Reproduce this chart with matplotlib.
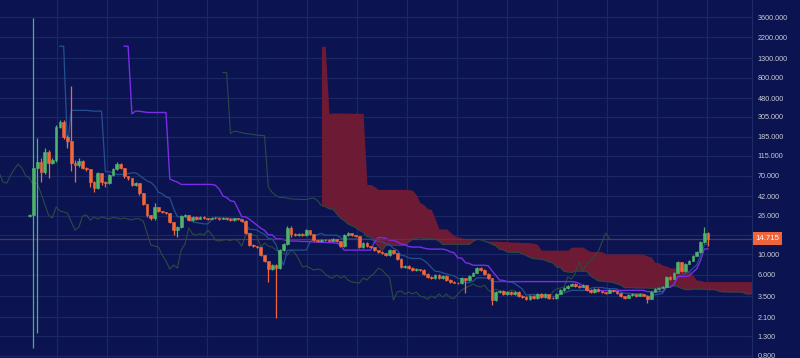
import numpy as np
import pandas as pd
import matplotlib
matplotlib.use('Agg')
import matplotlib.pyplot as plt
from matplotlib.ticker import FixedLocator, FixedFormatter, NullLocator

# weekly candles (log price axis)
closes = [26.5, 85.1, 98.8, 77.6, 127.4, 96.3, 103.8, 237.6, 269, 185.3,
          166.6, 95.6, 91.7, 102, 85.7, 83.0, 60.5, 51.8, 75.1, 60.1,
          58.6, 71.5, 83.0, 94.0, 85.1, 69.7, 66.3, 55.8, 58.6, 45.7,
          34.8, 26.5, 24.6, 32.3, 29.3, 28.5, 27.8, 22.3, 18.25, 19.6,
          25.8, 26.5, 23.4, 25.2, 24.0, 25.2, 24.6, 24.0, 24.9, 24.6,
          24.0, 24.6, 24.0, 23.4, 24.3, 24.0, 22.8, 16.9, 12.55, 12.24,
          11.95, 9.78, 8.45, 6.92, 7.64, 7.09, 11.1, 12.87, 19.2, 16.5,
          16.1, 16.7, 16.1, 18.25, 16.5, 14.2, 13.85, 14.2, 14.4, 14.05,
          14.55, 13.85, 12.24, 16.1, 16.9, 16.1, 15.7, 11.95, 13.2, 12.24,
          11.95, 11.1, 10.55, 10.3, 9.78, 11.1, 10.3, 8.88, 7.27, 7.45,
          7.09, 6.75, 6.92, 6.75, 6.11, 5.67, 5.53, 5.96, 5.53, 5.81,
          5.27, 5.01, 4.95, 4.89, 5.53, 5.27, 5.81, 6.27, 7.09, 6.75,
          6.11, 5.53, 3.20, 3.91, 4.01, 3.72, 3.91, 3.72, 3.91, 3.54,
          3.45, 3.28, 3.54, 3.37, 3.72, 3.45, 3.72, 3.37, 3.33, 3.72,
          4.11, 4.32, 4.54, 4.77, 4.54, 4.43, 4.65, 4.11, 3.91, 4.21,
          4.01, 3.91, 3.81, 4.11, 4.01, 3.81, 3.54, 3.37, 3.63, 3.72,
          3.54, 3.72, 3.58, 3.28, 3.91, 4.21, 4.32, 4.43, 5.67, 5.40,
          6.27, 8.24, 6.58, 7.84, 8.45, 9.54, 10.55, 13.5, 16.9, 14.715]
highs = [27.2, 3510, 179, 109, 140, 132, 110, 250, 282, 278,
         192, 653, 105, 108, 105, 87, 84, 62, 77, 76,
         61.5, 73, 86, 98, 96, 86, 70, 66.5, 60, 59,
         46, 35, 26.8, 35.5, 32.5, 29.6, 28.7, 28, 22.5, 20.2,
         26.3, 27.3, 26.8, 25.8, 25.6, 25.7, 25.6, 24.9, 25.4, 25.3,
         24.9, 25.0, 24.9, 24.3, 24.7, 24.6, 24.2, 23.4, 17.0, 12.8,
         12.4, 12.1, 9.9, 8.5, 7.9, 7.8, 11.4, 13.2, 20.0, 20.1,
         17.0, 17.1, 16.9, 18.6, 18.4, 16.7, 14.4, 14.5, 14.7, 14.6,
         14.8, 14.7, 14.0, 16.5, 17.3, 17.1, 16.3, 15.9, 13.5, 13.4,
         12.4, 12.1, 11.2, 10.7, 10.4, 11.4, 11.2, 10.4, 9.0, 7.7,
         7.6, 7.2, 7.1, 7.0, 6.85, 6.2, 5.8, 6.1, 6.05, 5.95,
         5.9, 5.35, 5.1, 5.05, 5.65, 5.6, 5.95, 6.45, 7.3, 7.2,
         6.85, 6.2, 5.6, 4.05, 4.15, 4.1, 4.0, 3.98, 4.0, 3.98,
         3.6, 3.5, 3.62, 3.6, 3.8, 3.78, 3.8, 3.76, 3.45, 3.8,
         4.2, 4.42, 4.65, 4.9, 4.85, 4.6, 4.75, 4.7, 4.18, 4.3,
         4.28, 4.06, 3.96, 4.2, 4.15, 4.05, 3.85, 3.58, 3.7, 3.8,
         3.76, 3.78, 3.75, 3.62, 4.0, 4.3, 4.4, 4.55, 5.8, 5.75,
         6.4, 8.5, 8.3, 8.0, 8.7, 9.8, 10.9, 14.0, 19.8, 17.3]
lows = [25.3, 0.97, 1.4, 60, 74, 66, 94, 100, 232, 175,
        140, 80, 60, 88, 83, 79, 53, 47, 50, 56,
        53, 57, 70, 82, 83, 67, 64, 54, 54, 44,
        34, 25.5, 23.2, 23.5, 28.5, 27.8, 27.0, 21.8, 16.1, 15.2,
        19.3, 25, 23, 23, 23.6, 23.7, 24.2, 23.6, 23.7, 24.2,
        23.6, 23.7, 23.6, 23.0, 23.1, 23.6, 22.4, 16.5, 12.2, 11.9,
        11.6, 9.5, 8.2, 5.05, 6.7, 2.05, 6.9, 10.8, 12.5, 15.5,
        15.7, 15.8, 15.8, 15.9, 16.2, 13.9, 13.5, 13.6, 14.0, 13.8,
        13.9, 13.6, 11.9, 12.0, 15.8, 15.8, 15.4, 11.7, 11.8, 12.0,
        11.7, 10.9, 10.3, 10.1, 9.6, 9.6, 10.1, 8.7, 7.1, 7.1,
        6.9, 6.6, 6.6, 6.6, 6.0, 5.55, 5.4, 5.45, 5.4, 5.45,
        5.15, 4.9, 4.85, 4.75, 4.8, 3.8, 5.2, 5.75, 6.2, 6.6,
        6.0, 5.4, 2.83, 3.1, 3.8, 3.6, 3.65, 3.6, 3.65, 3.45,
        3.35, 3.2, 3.22, 3.3, 3.32, 3.38, 3.4, 3.3, 3.25, 3.3,
        3.68, 4.05, 4.25, 4.5, 4.45, 4.35, 4.38, 4.05, 3.85, 3.85,
        3.95, 3.85, 3.75, 3.78, 3.95, 3.75, 3.48, 3.3, 3.33, 3.58,
        3.48, 3.5, 3.52, 3.0, 3.25, 3.88, 4.15, 4.28, 4.4, 5.3,
        5.35, 6.2, 6.45, 6.5, 7.75, 8.4, 9.45, 10.4, 13.3, 12.2]
first_open = 25.8
last_price = 14.715
price_ticks = [0.8, 1.3, 2.1, 3.5, 6, 10, 16, 26, 42, 70, 115, 185,
               305, 480, 800, 1300, 2200, 3600]

BG = '#0b1451'
GRID = '#1b2868'
UP = '#4fb36b'
DOWN = '#ef673b'

opens = [first_open] + closes[:-1]
df = pd.DataFrame({'open': opens, 'high': highs, 'low': lows, 'close': closes})
idx = np.arange(len(df))


def midpoint(period):
    return (df['high'].rolling(period).max() + df['low'].rolling(period).min()) / 2


tenkan = midpoint(9)
kijun = midpoint(26)
span_a = ((tenkan + kijun) / 2).to_numpy()
span_b = midpoint(52).to_numpy()
shift = 26

fig = plt.figure(figsize=(8, 3.58), dpi=100, facecolor=BG)
ax = fig.add_axes([0, 0, 752 / 800, 1])
ax.set_facecolor(BG)
ax.set_yscale('log')
ax.set_ylim(0.759, 5534)
ax.set_xlim(-7.8, 190.6)

# grid; the 16.000 label sits under the last-price tag, so it is left blank
ax.xaxis.set_major_locator(FixedLocator(np.arange(7.26, 191, 13.19)))
ax.xaxis.set_minor_locator(NullLocator())
ax.yaxis.set_major_locator(FixedLocator(price_ticks))
ax.yaxis.set_minor_locator(NullLocator())
tick_text = ['' if t == 16 else '%.3f' % t for t in price_ticks]
ax.yaxis.set_major_formatter(FixedFormatter(tick_text))
ax.grid(True, color=GRID, lw=0.8)
ax.set_axisbelow(True)
ax.tick_params(axis='x', length=0, labelbottom=False)
ax.yaxis.tick_right()
ax.tick_params(axis='y', length=0, pad=4, labelsize=5.2, labelcolor='#c9ccd8')
for lab in ax.get_yticklabels():
    lab.set_family('Liberation Sans')
for side in ['top', 'bottom', 'left']:
    ax.spines[side].set_visible(False)
ax.spines['right'].set_color('#1f2b66')

# ichimoku cloud and lines
ok = ~np.isnan(span_b)
ax.fill_between(idx + shift, span_a, span_b, where=ok, color='#6d1a34',
                lw=0, zorder=1)
ax.plot(idx + shift, span_a, color='#2a4a45', lw=0.8, zorder=1.2)
ax.plot(idx - shift, closes, color='#2c4a40', lw=0.8, zorder=1.3)
ax.plot(idx, tenkan, color='#22508f', lw=0.9, zorder=1.4)
ax.plot(idx, kijun, color='#7a2de6', lw=1.0, zorder=1.5)

ax.axhline(last_price, color='#6e2c42', lw=0.9, zorder=1.6)

# candles
up = df['close'] >= df['open']
cols = np.where(up, UP, DOWN)
ax.vlines(idx, df['low'], df['high'], colors=cols, lw=0.9, zorder=2)
bottoms = np.minimum(df['open'], df['close'])
heights = np.abs(df['close'] - df['open'])
ax.bar(idx, heights, bottom=bottoms, width=0.72, color=cols,
       edgecolor=cols, lw=0.4, zorder=3)

ax.annotate('%.3f' % last_price, xy=(1, last_price),
            xycoords=('axes fraction', 'data'), xytext=(2.5, 0),
            textcoords='offset points', ha='left', va='center',
            color='white', fontsize=5.6, family='Liberation Sans',
            bbox=dict(boxstyle='square,pad=0.35', fc='#f0643c', ec='none'),
            annotation_clip=False, zorder=10)

fig.savefig('out.png', dpi=100, facecolor=BG)
